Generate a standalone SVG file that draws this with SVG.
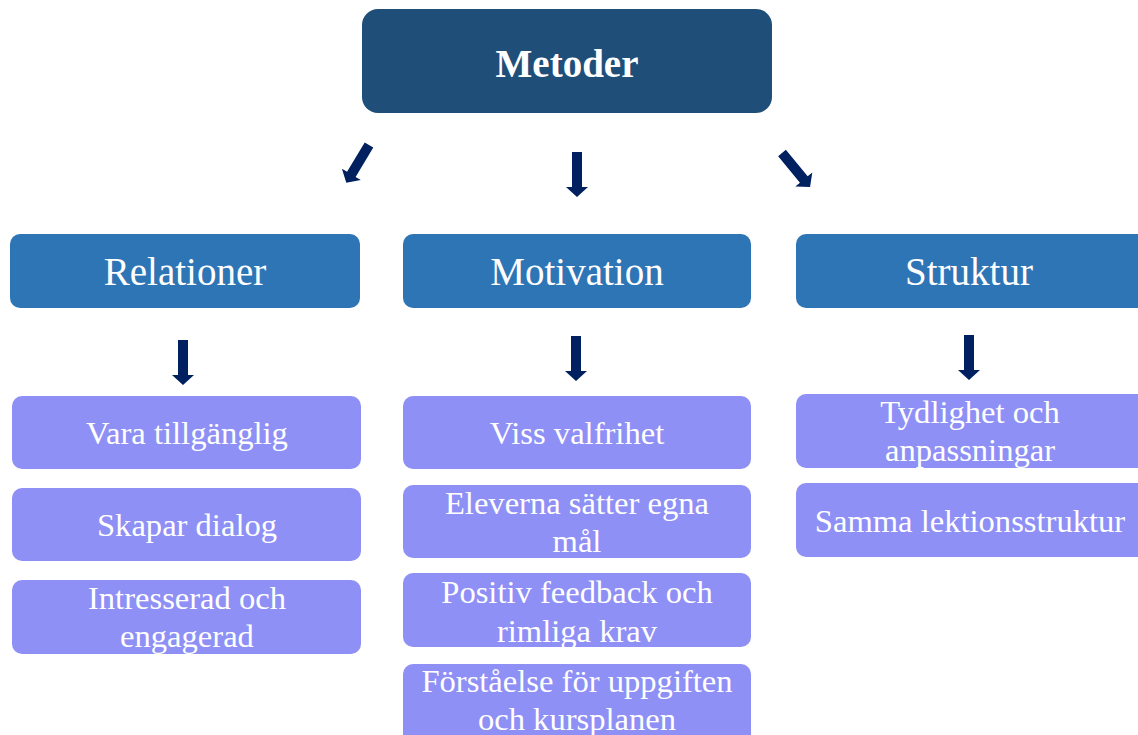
<svg xmlns="http://www.w3.org/2000/svg" width="1138" height="735" viewBox="0 0 1138 735">
<style>
.top{fill:#1f4e79;}
.cat{fill:#2e75b6;}
.item{fill:#8e90f6;}
text{font-family:"Liberation Serif","Times New Roman",serif;fill:#ffffff;text-anchor:middle;}
.t1{font-size:39px;font-weight:bold;}
.t2{font-size:39px;}
.t3{font-size:32.6px;}
.arr{fill:#002060;}
</style>
<defs>
<path id="a45" d="M-5,0 L5,0 L5,35 L11,35 L0,45 L-11,35 L-5,35 Z"/>
</defs>
<g id="metoder"><rect class="top" x="362" y="9" width="410" height="104" rx="16"/><text class="t1" x="567" y="77">Metoder</text></g>
<g id="relationer"><rect class="cat" x="10" y="234" width="350" height="74" rx="10"/><text class="t2" x="185" y="285">Relationer</text></g>
<g id="motivation"><rect class="cat" x="403" y="234" width="348" height="74" rx="10"/><text class="t2" x="577" y="285">Motivation</text></g>
<g id="struktur"><rect class="cat" x="796" y="234" width="352" height="74" rx="10"/><text class="t2" x="969" y="285">Struktur</text></g>
<g id="vara"><rect class="item" x="12" y="396" width="349" height="73" rx="10"/><text class="t3" x="187" y="444">Vara tillgänglig</text></g>
<g id="skapar"><rect class="item" x="12" y="488" width="349" height="73" rx="10"/><text class="t3" x="187" y="536">Skapar dialog</text></g>
<g id="intresserad"><rect class="item" x="12" y="580" width="349" height="74" rx="10"/><text class="t3" x="187" y="609">Intresserad och</text><text class="t3" x="187" y="647">engagerad</text></g>
<g id="viss"><rect class="item" x="403" y="396" width="348" height="73" rx="10"/><text class="t3" x="577" y="444">Viss valfrihet</text></g>
<g id="eleverna"><rect class="item" x="403" y="485" width="348" height="73" rx="10"/><text class="t3" x="577" y="514">Eleverna sätter egna</text><text class="t3" x="577" y="552">mål</text></g>
<g id="positiv"><rect class="item" x="403" y="573" width="348" height="74" rx="10"/><text class="t3" x="577" y="603">Positiv feedback och</text><text class="t3" x="577" y="642">rimliga krav</text></g>
<g id="forstaelse"><rect class="item" x="403" y="664" width="348" height="80" rx="10"/><text class="t3" x="577" y="692">Förståelse för uppgiften</text><text class="t3" x="577" y="730">och kursplanen</text></g>
<g id="tydlighet"><rect class="item" x="796" y="394" width="352" height="74" rx="10"/><text class="t3" x="970" y="423">Tydlighet och</text><text class="t3" x="970" y="461">anpassningar</text></g>
<g id="samma"><rect class="item" x="796" y="483" width="352" height="74" rx="10"/><text class="t3" x="970" y="532">Samma lektionsstruktur</text></g>
<g id="connectors" class="arr">
<use href="#a45" transform="translate(369,145) rotate(31) scale(1,0.98)"/>
<use href="#a45" transform="translate(577,152)"/>
<use href="#a45" transform="translate(782,153) rotate(-39.5) scale(1,0.98)"/>
<use href="#a45" transform="translate(183,340)"/>
<use href="#a45" transform="translate(576,336)"/>
<use href="#a45" transform="translate(969,335)"/>
</g>
</svg>
